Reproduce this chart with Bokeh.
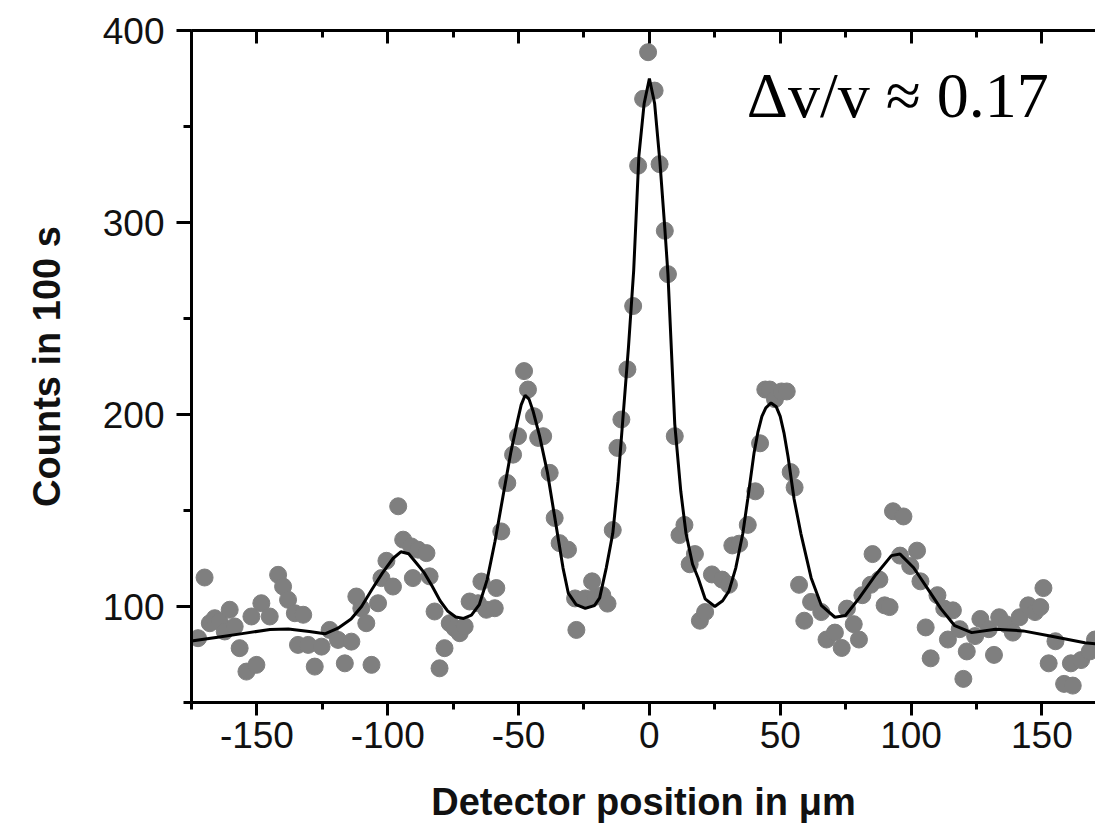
from bokeh.plotting import figure
from bokeh.models import Range1d, LinearAxis, FixedTicker, Label
from bokeh.embed import file_html
from bokeh.resources import INLINE

# measured detector counts
pos_um = [-172.5, -170, -168, -166.1, -164.2, -162.3, -160.4, -158.5, -156.6, -154,
          -152.1, -150.2, -148.3, -145.1, -141.9, -140, -138.1, -135.5, -134.3, -132.3,
          -130.4, -127.9, -125.3, -122.2, -119, -116.4, -113.9, -112, -110.1, -108.2,
          -106.2, -103.7, -102.4, -100.5, -98, -96, -94.1, -91, -90.4, -88.4,
          -85.2, -84, -82.1, -80.2, -78.3, -76.3, -74.4, -72.5, -70.6, -68.7,
          -65.5, -64.2, -62.3, -59.1, -58.5, -56.6, -54.3, -52.1, -50.2, -47.9,
          -46.4, -44.1, -42.5, -40.6, -38.1, -36.2, -34.3, -31.1, -28.4, -27.9,
          -24.5, -21.9, -20.6, -18, -16, -14, -12.2, -10.7, -8.4, -6.2,
          -4.3, -2.4, -0.5, 2, 3.9, 5.9, 7.1, 9.7, 11.5, 13.4,
          15.4, 17.4, 19.3, 21.3, 23.9, 27.8, 30.4, 31.7, 34.3, 37.6,
          40.5, 42.3, 44.3, 46, 48, 50.5, 52.5, 54, 55.5, 57.2,
          59.2, 61.8, 65.7, 67.7, 70.9, 73.5, 75.5, 78.1, 80.1, 81.4,
          84.6, 85.3, 87.9, 89.9, 91.8, 93.1, 95.8, 97.1, 99.7, 102.3,
          103.6, 105.6, 107.5, 110.1, 112.7, 114.1, 116, 118.6, 120, 121.3,
          124.5, 126.5, 129.7, 131.7, 133.7, 136.3, 138.9, 141.5, 144.8, 147.4,
          149.4, 150.6, 152.6, 155.2, 158.5, 161.1, 161.8, 165, 168.3, 170.3]
counts = [83.5, 115.1, 91.3, 93.9, 92.2, 87, 98.3, 89.6, 78.3, 66.1,
          94.8, 69.6, 101.7, 94.8, 116.5, 110.4, 103.5, 96.5, 80, 95.7,
          80, 68.7, 79.1, 87.8, 82.6, 70.4, 81.7, 105.2, 99.1, 91.3,
          69.6, 101.7, 114.8, 123.8, 110.4, 152.2, 134.8, 131.3, 114.8, 129.6,
          127.8, 115.7, 97.4, 67.8, 78.3, 91.3, 88.7, 86.1, 89.6, 102.6,
          101.7, 113, 98.3, 99.1, 109.6, 139.1, 164.3, 179.1, 188.7, 222.6,
          213, 199.1, 187.8, 188.7, 169.6, 146.1, 133, 129.6, 104.2, 87.8,
          104.2, 113.1, 105.1, 105.9, 101.5, 139.8, 182.6, 197.4, 223.5, 256.5,
          329.6, 364.4, 388.7, 368.7, 330.4, 295.7, 273.1, 188.7, 137.2, 142.5,
          122, 127.3, 92.6, 97.1, 116.7, 114, 111.3, 131.8, 132.7, 142.5,
          160, 185, 213, 213, 208, 212, 212, 170, 162, 111.3,
          92.6, 102.4, 97.1, 82.8, 86.4, 78.4, 98.9, 90.8, 82.8, 105.9,
          111.3, 127.3, 114, 100.6, 99.7, 149.6, 126.5, 146.9, 121.1, 129.1,
          113.1, 89.1, 73.0, 105.9, 98.9, 82.8, 98, 88.2, 62.3, 76.6,
          84.6, 93.5, 88.2, 74.8, 94.4, 90.8, 86.4, 94.4, 100.6, 97.1,
          99.7, 109.6, 70.4, 81.9, 59.7, 70.4, 58.8, 72.1, 76.6, 82.8]

# fitted curve
fit_x = [-175, -165, -155, -145, -138, -130, -124, -119, -114, -110,
         -106, -102, -98, -95, -92, -89, -86, -83, -80, -77,
         -74, -71, -68, -65, -62, -59, -56, -53, -50.5, -49,
         -47.5, -46, -44.5, -42, -39, -36, -33, -31, -28, -24.5,
         -21, -19, -16.5, -14, -12, -10, -8, -6, -4, -2,
         0, 2, 4, 6, 7.1, 9.7, 12, 14, 16.5, 18.6,
         21.3, 25, 28, 30.4, 33, 35.7, 37.6, 40, 41.5, 43,
         44.5, 46.5, 48.5, 50, 51.5, 53, 55.3, 57.9, 61.8, 65.7,
         70.9, 74.9, 80.1, 86.6, 92.5, 95.8, 101, 106.2, 111.4, 116.7,
         123.2, 132.3, 142.8, 153.2, 166.4, 171]
fit_y = [82, 84, 86, 88, 88.3, 87, 85.8, 88.7, 93.5, 100,
         109, 117.5, 125, 128.5, 127.5, 122.5, 117.5, 110.5, 103, 97.5,
         94.5, 93.8, 95.5, 101, 114, 134, 157, 180, 196, 205,
         210, 208, 202, 189, 170, 145, 120, 107, 101, 99,
         100.5, 104.5, 120, 138, 165, 200, 235, 275, 335, 362,
         375, 362, 332, 295, 273, 195, 160, 138, 122, 115,
         104, 100, 103, 108, 120, 138, 156, 180, 191, 199,
         203.5, 206, 204, 199, 190, 178, 156, 138, 115, 100.6,
         94.4, 95.3, 104.2, 116.7, 126.5, 127.3, 120.2, 109.6, 98.9, 90,
         86.4, 88.2, 87.3, 84.6, 81.1, 80.5]

x_major = [-150, -100, -50, 0, 50, 100, 150]
x_minor = [-175, -125, -75, -25, 25, 75, 125, 175]
y_major = [100, 200, 300, 400]
y_minor = [50, 150, 250, 350]

p = figure(width=1095, height=833, output_backend="svg", toolbar_location=None,
           x_range=Range1d(-175, 170.5), y_range=Range1d(50, 400),
           x_axis_type=None, y_axis_type=None,
           min_border_left=191, min_border_right=0, min_border_top=30,
           min_border_bottom=131)
p.outline_line_color = None
p.background_fill_color = "white"
p.border_fill_color = "white"

tick_font = "Liberation Sans"

xb = LinearAxis(ticker=FixedTicker(ticks=x_major, minor_ticks=x_minor),
                axis_label="Detector position in μm")
xb.major_label_overrides = {v: str(v) for v in x_major}
xb.axis_line_width = 3
xb.major_tick_line_width = 3
xb.minor_tick_line_width = 3
xb.major_tick_out = 13
xb.major_tick_in = 0
xb.minor_tick_out = 7
xb.minor_tick_in = 0
xb.major_label_text_font = tick_font
xb.major_label_text_font_size = "37px"
xb.major_label_text_color = "#111111"
xb.major_label_standoff = 6
xb.axis_label_text_font = tick_font
xb.axis_label_text_font_style = "bold"
xb.axis_label_text_font_size = "38px"
xb.axis_label_text_color = "#111111"
xb.axis_label_standoff = 30
p.add_layout(xb, "below")

# top frame: inward ticks only, no labels
xt1 = LinearAxis(ticker=FixedTicker(ticks=[], minor_ticks=x_major))
xt1.axis_line_width = 3
xt1.minor_tick_line_width = 3
xt1.minor_tick_out = 0
xt1.minor_tick_in = 13
xt1.major_tick_out = 0
xt1.major_label_standoff = 0
p.add_layout(xt1, "above")
xt2 = LinearAxis(ticker=FixedTicker(ticks=[], minor_ticks=x_minor))
xt2.axis_line_width = 3
xt2.minor_tick_line_width = 3
xt2.minor_tick_out = 0
xt2.minor_tick_in = 7
xt2.major_tick_out = 0
xt2.major_label_standoff = 0
p.add_layout(xt2, "above")

yl = LinearAxis(ticker=FixedTicker(ticks=y_major, minor_ticks=y_minor),
                axis_label="Counts in 100 s")
yl.axis_line_width = 3
yl.major_tick_line_width = 3
yl.minor_tick_line_width = 3
yl.major_tick_out = 15
yl.major_tick_in = 0
yl.minor_tick_out = 8
yl.minor_tick_in = 0
yl.major_label_text_font = tick_font
yl.major_label_text_font_size = "37px"
yl.major_label_text_color = "#111111"
yl.major_label_standoff = 12
yl.axis_label_text_font = tick_font
yl.axis_label_text_font_style = "bold"
yl.axis_label_text_font_size = "38px"
yl.axis_label_text_color = "#111111"
yl.axis_label_standoff = 32
p.add_layout(yl, "left")

p.scatter(pos_um, counts, size=17, fill_color="#7f7f7f", line_color="#7f7f7f",
          line_width=1)
p.line(fit_x, fit_y, line_color="black", line_width=3)

ann = Label(x=37.2, y=366, text="Δv/v ≈ 0.17", text_font="Liberation Serif",
            text_font_size="64px", text_color="black", text_baseline="alphabetic",
            text_align="left")
p.add_layout(ann)

open("out.html", "w").write(file_html(p, INLINE))
